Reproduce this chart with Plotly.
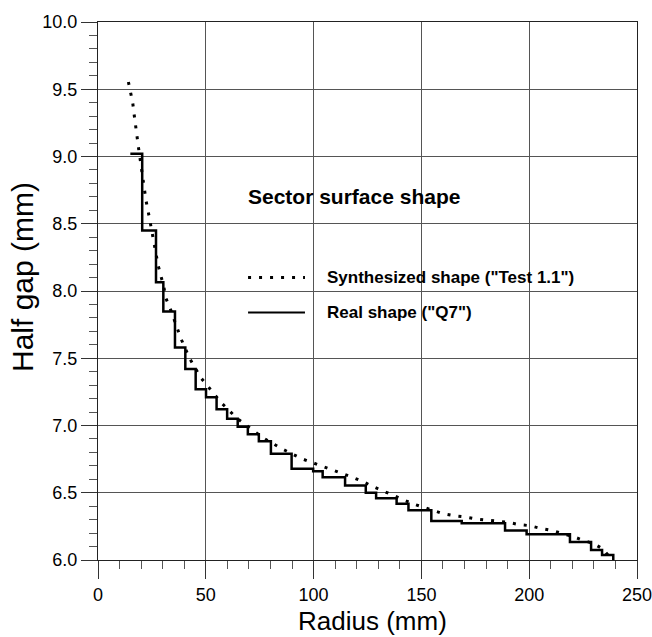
import plotly.graph_objects as go

# Real shape ("Q7") : step start radii (mm) and half-gap levels (mm)
real_r = [15.0, 20.5, 26.9, 30.3, 35.7, 40.5, 45.3, 50.1, 55.0, 59.9, 64.8, 69.5, 74.6,
          80.2, 89.8, 99.8, 104.2, 114.6, 124.2, 129.0, 138.5, 144.0, 154.6, 168.7,
          188.8, 198.8, 218.9, 228.7, 233.8, 239.0]
real_gap = [9.02, 8.45, 8.065, 7.848, 7.58, 7.42, 7.27, 7.21, 7.12, 7.05, 6.99, 6.935, 6.882,
            6.79, 6.678, 6.66, 6.615, 6.553, 6.50, 6.46, 6.418, 6.37, 6.29, 6.273,
            6.22, 6.192, 6.133, 6.075, 6.038, 6.0]

# Synthesized shape ("Test 1.1")
synth_r = [14.1, 15.3, 16.1, 16.7, 17.3, 18.1, 18.7, 19.4, 20.3, 20.9, 21.3, 22.3, 23.3, 24.2,
           25.4, 26.0, 26.9, 27.9, 29.2, 30.5, 31.4, 33.4, 38.5, 42.5, 47.7, 53.9, 57.3,
           64.3, 72.5, 76.7, 80.6, 85.5, 94.5, 98.8, 103.7, 108.4, 113.5, 118.1, 122.8,
           127.4, 132.0, 136.7, 140.8, 145.8, 150.6, 160.2, 165.1, 170.2, 175.3, 180.3,
           185.2, 190.3, 195.4, 200.4, 205.3, 210.4, 215.5, 220.1, 225.1, 230.0, 234.1,
           237.1, 238.5]
synth_gap = [9.554, 9.47, 9.40, 9.32, 9.23, 9.15, 9.075, 8.99, 8.90, 8.83, 8.75, 8.67, 8.59,
             8.51, 8.43, 8.35, 8.27, 8.19, 8.11, 8.034, 7.95, 7.874, 7.645, 7.499, 7.355,
             7.229, 7.167, 7.056, 6.956, 6.907, 6.87, 6.825, 6.753, 6.729, 6.696, 6.671,
             6.642, 6.614, 6.584, 6.547, 6.517, 6.486, 6.454, 6.419, 6.394, 6.344, 6.329,
             6.32, 6.305, 6.295, 6.287, 6.28, 6.263, 6.255, 6.235, 6.22, 6.196, 6.176,
             6.146, 6.121, 6.082, 6.027, 6.0]

x_ticks = [0, 50, 100, 150, 200, 250]
y_ticks = [6.0, 6.5, 7.0, 7.5, 8.0, 8.5, 9.0, 9.5, 10.0]

title_text = "Sector surface shape"
legend_labels = ['Synthesized shape ("Test 1.1")', 'Real shape ("Q7")']
x_title = "Radius (mm)"
y_title = "Half gap (mm)"

FONT = "Liberation Sans, Arial, sans-serif"

fig = go.Figure()
fig.add_trace(go.Scatter(x=synth_r, y=synth_gap, mode="lines",
                         line=dict(color="black", width=3, dash="3px,8px"),
                         showlegend=False))
fig.add_trace(go.Scatter(x=real_r, y=real_gap, mode="lines",
                         line=dict(color="black", width=2.5, shape="hv"),
                         showlegend=False))

# in-plot legend
fig.add_shape(type="line", x0=69.6, x1=96, y0=8.10, y1=8.10,
              line=dict(color="black", width=3, dash="3px,8px"))
fig.add_shape(type="line", x0=69.6, x1=96, y0=7.84, y1=7.84,
              line=dict(color="black", width=2))
fig.add_annotation(x=69.0, y=8.70, text="<b>" + title_text + "</b>", showarrow=False,
                   xanchor="left", yanchor="middle", borderpad=0,
                   font=dict(family=FONT, size=21, color="black"))
fig.add_annotation(x=105.6, y=8.10, text="<b>" + legend_labels[0] + "</b>", showarrow=False,
                   xanchor="left", yanchor="middle", borderpad=0,
                   font=dict(family=FONT, size=17, color="black"))
fig.add_annotation(x=105.6, y=7.84, text="<b>" + legend_labels[1] + "</b>", showarrow=False,
                   xanchor="left", yanchor="middle", borderpad=0,
                   font=dict(family=FONT, size=17, color="black"))

# axis titles
fig.add_annotation(xref="paper", yref="paper", x=0.510, y=-0.113, text=x_title,
                   showarrow=False, xanchor="center", yanchor="middle", borderpad=0,
                   font=dict(family=FONT, size=26, color="black"))
fig.add_annotation(xref="paper", yref="paper", x=-0.141, y=0.526, text=y_title,
                   textangle=-90, showarrow=False, xanchor="center", yanchor="middle",
                   borderpad=0, font=dict(family=FONT, size=30, color="black"))

axis_common = dict(showgrid=True, gridcolor="#555", gridwidth=1,
                   showline=True, linecolor="#222", linewidth=1, mirror=True,
                   ticks="outside", tickcolor="#333", tickwidth=1,
                   tickfont=dict(family=FONT, size=18, color="black"),
                   ticklabeloverflow="allow", zeroline=False)

fig.update_xaxes(range=[0, 250], tickvals=x_ticks, ticklen=18,
                 minor=dict(dtick=10, ticks="outside", ticklen=8, tickcolor="#555", showgrid=False),
                 **axis_common)
fig.update_yaxes(range=[6, 10], tickvals=y_ticks, tickformat=".1f", ticklen=16,
                 minor=dict(dtick=0.1, ticks="outside", ticklen=8, tickcolor="#555", showgrid=False),
                 **axis_common)

fig.update_layout(width=652, height=637,
                  margin=dict(l=98, r=15, t=22, b=77, autoexpand=False),
                  paper_bgcolor="white", plot_bgcolor="white",
                  font=dict(family=FONT, color="black"))

# remove the page's default body margin so the figure fills the window exactly
fig.write_html("out.html",
               config={"displayModeBar": False},
               post_script="document.body.style.margin='0';"
                           "document.body.style.overflow='hidden';"
                           "document.documentElement.style.overflow='hidden';")
